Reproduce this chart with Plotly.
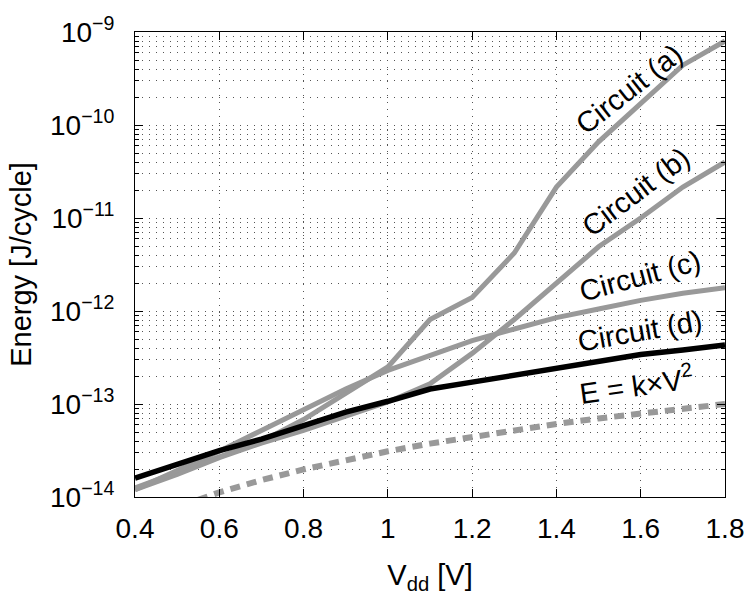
import plotly.graph_objects as go

# ---- data ----
vdd = [0.4, 0.5, 0.6, 0.7, 0.8, 0.9, 1.0, 1.1, 1.2, 1.3, 1.4, 1.5, 1.6, 1.7, 1.8]
energy_a = [1.25e-14, 1.85e-14, 2.75e-14, 3.95e-14, 6.8e-14, 1.3e-13, 2.5e-13, 8.1e-13,
            1.4e-12, 4.2e-12, 2.15e-11, 6.6e-11, 1.7e-10, 4.4e-10, 8.0e-10]
energy_b = [1.2e-14, 1.75e-14, 2.65e-14, 3.8e-14, 5.2e-14, 7.4e-14, 1.05e-13, 1.65e-13,
            3.5e-13, 8.1e-13, 2.0e-12, 4.9e-12, 1.0e-11, 2.15e-11, 4.0e-11]
energy_c = [1.2e-14, 1.9e-14, 3.1e-14, 5.2e-14, 8.8e-14, 1.45e-13, 2.3e-13, 3.35e-13,
            4.8e-13, 6.4e-13, 8.5e-13, 1.05e-12, 1.3e-12, 1.55e-12, 1.78e-12]
energy_d = [1.6e-14, 2.25e-14, 3.15e-14, 4.2e-14, 5.8e-14, 8.2e-14, 1.07e-13, 1.45e-13,
            1.72e-13, 2.05e-13, 2.4e-13, 2.9e-13, 3.4e-13, 3.8e-13, 4.3e-13]
energy_kv2 = [5.0e-15, 7.8e-15, 1.12e-14, 1.52e-14, 1.98e-14, 2.5e-14, 3.1e-14, 3.75e-14,
              4.45e-14, 5.2e-14, 6.1e-14, 7.0e-14, 7.9e-14, 8.9e-14, 1.0e-13]

x_tickvals = [0.4, 0.6, 0.8, 1.0, 1.2, 1.4, 1.6, 1.8]
x_ticktext = ["0.4", "0.6", "0.8", "1", "1.2", "1.4", "1.6", "1.8"]
y_tickvals = [1e-14, 1e-13, 1e-12, 1e-11, 1e-10, 1e-9]
y_ticktext = ["10<sup>−14</sup>", "10<sup>−13</sup>", "10<sup>−12</sup>",
              "10<sup>−11</sup>", "10<sup>−10</sup>", "10<sup>−9</sup>"]
y_minor = [m * 10.0 ** e for e in range(-14, -9) for m in range(2, 10)]

labels = ["Circuit (a)", "Circuit (b)", "Circuit (c)", "Circuit (d)", "E = k×V<sup>2</sup>"]
label_x = [1.572, 1.588, 1.598, 1.598, 1.588]
label_logy = [-9.61, -10.72, -11.62, -12.21, -12.78]
label_angle = [-38, -37, -15, -10, -8]

GREY = "#999999"
FONT = "Liberation Sans, Arial, Helvetica, sans-serif"
GRIDC = "#555555"
grid_dash = "1px,6px"

fig = go.Figure()
for ys in (energy_a, energy_b, energy_c):
    fig.add_trace(go.Scatter(x=vdd, y=ys, mode="lines",
                             line=dict(color=GREY, width=5), showlegend=False))
fig.add_trace(go.Scatter(x=vdd, y=energy_d, mode="lines",
                         line=dict(color="black", width=5.5), showlegend=False))
fig.add_trace(go.Scatter(x=vdd, y=energy_kv2, mode="lines",
                         line=dict(color=GREY, width=6, dash="10px,7px"), showlegend=False))

for t, x, ly, ang in zip(labels, label_x, label_logy, label_angle):
    fig.add_annotation(x=x, y=ly, xref="x", yref="y", text=t, showarrow=False,
                       textangle=ang, font=dict(size=29, color="black", family=FONT))

fig.update_layout(
    width=756, height=604,
    margin=dict(l=135, r=22, t=26, b=107),
    paper_bgcolor="white", plot_bgcolor="white",
    font=dict(family=FONT, color="black", size=28),
    xaxis=dict(
        range=[0.4, 1.8], tickmode="array", tickvals=x_tickvals, ticktext=x_ticktext,
        ticks="inside", ticklen=8, tickcolor="black", tickwidth=1,
        showline=True, linecolor="black", linewidth=1, mirror="ticks",
        showgrid=True, gridcolor=GRIDC, gridwidth=1, griddash=grid_dash,
        zeroline=False, tickfont=dict(size=28),
        ticklabelstandoff=6,
        title=dict(text="V<sub>dd</sub> [V]", font=dict(size=29), standoff=22),
    ),
    yaxis=dict(
        type="log", range=[-14, -9], tickmode="array", tickvals=y_tickvals,
        ticktext=y_ticktext,
        ticks="inside", ticklen=8, tickcolor="black", tickwidth=1,
        showline=True, linecolor="black", linewidth=1, mirror="ticks",
        showgrid=True, gridcolor=GRIDC, gridwidth=1, griddash=grid_dash,
        zeroline=False, tickfont=dict(size=28),
        ticklabelstandoff=14,
        minor=dict(tickmode="array", tickvals=y_minor, ticks="inside", ticklen=4,
                   tickcolor="black", showgrid=True, gridcolor=GRIDC,
                   gridwidth=1, griddash=grid_dash),
        title=dict(text="Energy [J/cycle]", font=dict(size=29), standoff=9),
    ),
)

fig.write_html("out.html")
